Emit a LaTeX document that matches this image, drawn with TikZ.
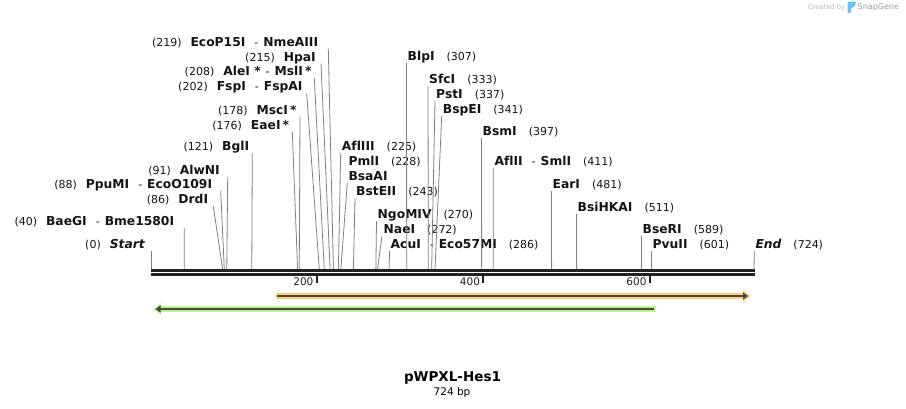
\documentclass[tikz,border=0pt]{standalone}
\usepackage{fontspec}
\setmainfont[Ligatures={TeX,NoCommon}]{DejaVu Sans}
\usetikzlibrary{arrows.meta}

\definecolor{leadgray}{RGB}{128,128,128}
\definecolor{strandblack}{RGB}{34,34,34}
\definecolor{orangeband}{RGB}{252,206,122}
\definecolor{greenband}{RGB}{192,240,142}
\definecolor{coreline}{RGB}{72,70,62}
\definecolor{logogray}{RGB}{185,185,185}
\definecolor{snapblue}{RGB}{110,195,240}

% nome dell'enzima
\newcommand{\enz}[1]{{\fontsize{12.3}{13}\selectfont\bfseries #1}}

\begin{document}
\begin{tikzpicture}[
    x=1pt, y=-1pt,
    lname/.style={inner sep=0pt, text height=9pt, text depth=2.5pt, font=\fontsize{11}{13}\selectfont, text=black!92},
    leader/.style={draw=leadgray, line width=0.8pt},
    strand/.style={draw=strandblack, line width=2.8pt},
    tickmark/.style={draw=strandblack, line width=2pt},
    ticklabel/.style={inner sep=0pt, anchor=east, font=\fontsize{10.5}{12}\selectfont, text=strandblack},
    band/.style={line width=5.5pt, line cap=butt},
    core/.style={draw=coreline, line width=2pt, line cap=butt}
]
    \useasboundingbox (0,0) rectangle (906,408);

    % Siti di taglio sulla sequenza (0..724 bp)
    \foreach \p in {0,40,86,88,91,121,176,178,202,208,215,219,225,228,243,270,272,286,307,333,337,341,397,411,481,511,589,601,724}
        \coordinate (s\p) at ({151+\p*0.83287},269);

    % Doppio filamento e scala
    \draw[strand] (151,270.3) -- (755,270.3);
    \draw[strand] (151,274.3) -- (755,274.3);
    \foreach \t in {200,400,600} {
        \draw[tickmark] ({151+\t*0.83287-0.8},275.5) -- ++(0,7.5);
        \node[ticklabel] (tick\t) at ({151+\t*0.83287-4},282) {\t};
    }

    % Enzimi a sinistra
    \node[lname, anchor=base east] (start) at (145,248.5) {(0)\hspace{9pt}\enz{\itshape Start}};
    \node[lname, anchor=base east] (baegi) at (174.3,225.5) {(40)\hspace{9pt}\enz{BaeGI}\hspace{9pt}-\hspace{5pt}\enz{Bme1580I}};
    \node[lname, anchor=base east] (drdi) at (208.3,203.5) {(86)\hspace{9pt}\enz{DrdI}};
    \node[lname, anchor=base east] (ppumi) at (212.3,188.3) {(88)\hspace{9pt}\enz{PpuMI}\hspace{9pt}-\hspace{5pt}\enz{EcoO109I}};
    \node[lname, anchor=base east] (alwni) at (220,174) {(91)\hspace{9pt}\enz{AlwNI}};
    \node[lname, anchor=base east] (bgli) at (249.3,150.5) {(121)\hspace{9pt}\enz{BglI}};
    \node[lname, anchor=base east] (eaei) at (289.3,129) {(176)\hspace{9pt}\enz{EaeI\,*}};
    \node[lname, anchor=base east] (msci) at (296.7,114) {(178)\hspace{9pt}\enz{MscI\,*}};
    \node[lname, anchor=base east] (fspi) at (302.7,90.7) {(202)\hspace{9pt}\enz{FspI}\hspace{9pt}-\hspace{5pt}\enz{FspAI}};
    \node[lname, anchor=base east] (alei) at (311.7,75.7) {(208)\hspace{9pt}\enz{AleI *}\hspace{5pt}-\hspace{5pt}\enz{MslI\,*}};
    \node[lname, anchor=base east] (hpai) at (316,61) {(215)\hspace{9pt}\enz{HpaI}};
    \node[lname, anchor=base east] (ecop15i) at (318.3,46) {(219)\hspace{9pt}\enz{EcoP15I}\hspace{9pt}-\hspace{5pt}\enz{NmeAIII}};

    \draw[leader] ([xshift=6pt]start.south east) -- (s0);
    \draw[leader] ([xshift=10pt]baegi.south east) -- (s40);
    \draw[leader] ([xshift=5pt]drdi.south east) -- (s86);
    \draw[leader] ([xshift=8.4pt]ppumi.south east) -- (s88);
    \draw[leader] ([xshift=7.7pt]alwni.south east) -- (s91);
    \draw[leader] ([xshift=3pt]bgli.south east) -- (s121);
    \draw[leader] ([xshift=3pt]eaei.south east) -- (s176);
    \draw[leader] ([xshift=3.3pt]msci.south east) -- (s178);
    \draw[leader] ([xshift=4pt]fspi.south east) -- (s202);
    \draw[leader] ([xshift=2.6pt]alei.south east) -- (s208);
    \draw[leader] ([xshift=5pt]hpai.south east) -- (s215);
    \draw[leader] ([xshift=10pt]ecop15i.south east) -- (s219);

    % Enzimi a destra
    \node[lname, anchor=base west] (afliii) at (341.7,150.5) {\enz{AflIII}\hspace{12pt}(225)};
    \node[lname, anchor=base west] (pmli) at (348.3,165.5) {\enz{PmlI}\hspace{12pt}(228)};
    \node[lname, anchor=base west] (bsaai) at (348.3,180) {\enz{BsaAI}};
    \node[lname, anchor=base west] (bsteii) at (356,195.5) {\enz{BstEII}\hspace{12pt}(243)};
    \node[lname, anchor=base west] (ngomiv) at (377.5,218.3) {\enz{NgoMIV}\hspace{12pt}(270)};
    \node[lname, anchor=base west] (naei) at (383.5,233.5) {\enz{NaeI}\hspace{12pt}(272)};
    \node[lname, anchor=base west] (acui) at (390.5,248.5) {\enz{AcuI}\hspace{9pt}-\hspace{5pt}\enz{Eco57MI}\hspace{12pt}(286)};
    \node[lname, anchor=base west] (blpi) at (407.5,60.5) {\enz{BlpI}\hspace{12pt}(307)};
    \node[lname, anchor=base west] (sfci) at (429,83.5) {\enz{SfcI}\hspace{12pt}(333)};
    \node[lname, anchor=base west] (psti) at (436,98.3) {\enz{PstI}\hspace{12pt}(337)};
    \node[lname, anchor=base west] (bspei) at (442.7,113.3) {\enz{BspEI}\hspace{12pt}(341)};
    \node[lname, anchor=base west] (bsmi) at (482.5,135.5) {\enz{BsmI}\hspace{12pt}(397)};
    \node[lname, anchor=base west] (aflii) at (494.3,165.5) {\enz{AflII}\hspace{9pt}-\hspace{5pt}\enz{SmlI}\hspace{12pt}(411)};
    \node[lname, anchor=base west] (eari) at (552.5,188.3) {\enz{EarI}\hspace{12pt}(481)};
    \node[lname, anchor=base west] (bsihkai) at (577.5,211.5) {\enz{BsiHKAI}\hspace{12pt}(511)};
    \node[lname, anchor=base west] (bseri) at (642.5,233.5) {\enz{BseRI}\hspace{12pt}(589)};
    \node[lname, anchor=base west] (pvuii) at (652.5,248.5) {\enz{PvuII}\hspace{12pt}(601)};
    \node[lname, anchor=base west] (end) at (755.3,248.5) {\enz{\itshape End}\hspace{12pt}(724)};

    \draw[leader] ([xshift=-1pt]afliii.south west) -- (s225);
    \draw[leader] ([xshift=-1pt]bsaai.south west) -- (s228);
    \draw[leader] ([xshift=-1pt]bsteii.south west) -- (s243);
    \draw[leader] ([xshift=-1pt]ngomiv.south west) -- (s270);
    \draw[leader] ([xshift=-1.5pt]naei.south west) -- (s272);
    \draw[leader] ([xshift=-1pt]acui.south west) -- (s286);
    \draw[leader] ([xshift=-1pt]blpi.south west) -- (s307);
    \draw[leader] ([xshift=-1pt]sfci.south west) -- (s333);
    \draw[leader] ([xshift=-1pt]psti.south west) -- (s337);
    \draw[leader] ([xshift=-1pt]bspei.south west) -- (s341);
    \draw[leader] ([xshift=-1pt]bsmi.south west) -- (s397);
    \draw[leader] ([xshift=-1pt]aflii.south west) -- (s411);
    \draw[leader] ([xshift=-1pt]eari.south west) -- (s481);
    \draw[leader] ([xshift=-1pt]bsihkai.south west) -- (s511);
    \draw[leader] ([xshift=-1pt]bseri.south west) -- (s589);
    \draw[leader] ([xshift=-1pt]pvuii.south west) -- (s601);
    \draw[leader] ([xshift=-1pt]end.south west) -- (s724);

    % Feature: avanti e indietro
    \draw[band, draw=orangeband, -{Triangle[length=8pt,width=11pt]}] (275.7,296) -- (751,296);
    \draw[core, -{Triangle[length=5pt,width=7pt]}] (277.3,296) -- (748,296);
    \draw[band, draw=greenband, -{Triangle[length=8pt,width=11pt]}] (655.7,309) -- (153,309);
    \draw[core, -{Triangle[length=5pt,width=7pt]}] (654,309) -- (155.5,309);

    % Titolo
    \node[font=\fontsize{13.5}{16}\selectfont\bfseries] (title) at (452.5,377.5) {pWPXL-Hes1};
    \node[font=\fontsize{10.5}{12}\selectfont] (bplen) at (452,393) {724 bp};

    % Logo
    \node[anchor=west, inner sep=0pt, font=\fontsize{6.7}{8}\selectfont, text=logogray] (created) at (808,7.5) {Created by};
    \fill[snapblue, rounded corners=1pt] (847.5,1.5) -- (856,1.5) -- (855,6.5) -- (851,8) -- (851,13) -- (847.5,13) -- cycle;
    \node[anchor=west, inner sep=0pt, font=\fontsize{8}{10}\selectfont, text=logogray!85!black] (snapgene) at (857.5,7.5) {SnapGene};

\end{tikzpicture}
\end{document}
